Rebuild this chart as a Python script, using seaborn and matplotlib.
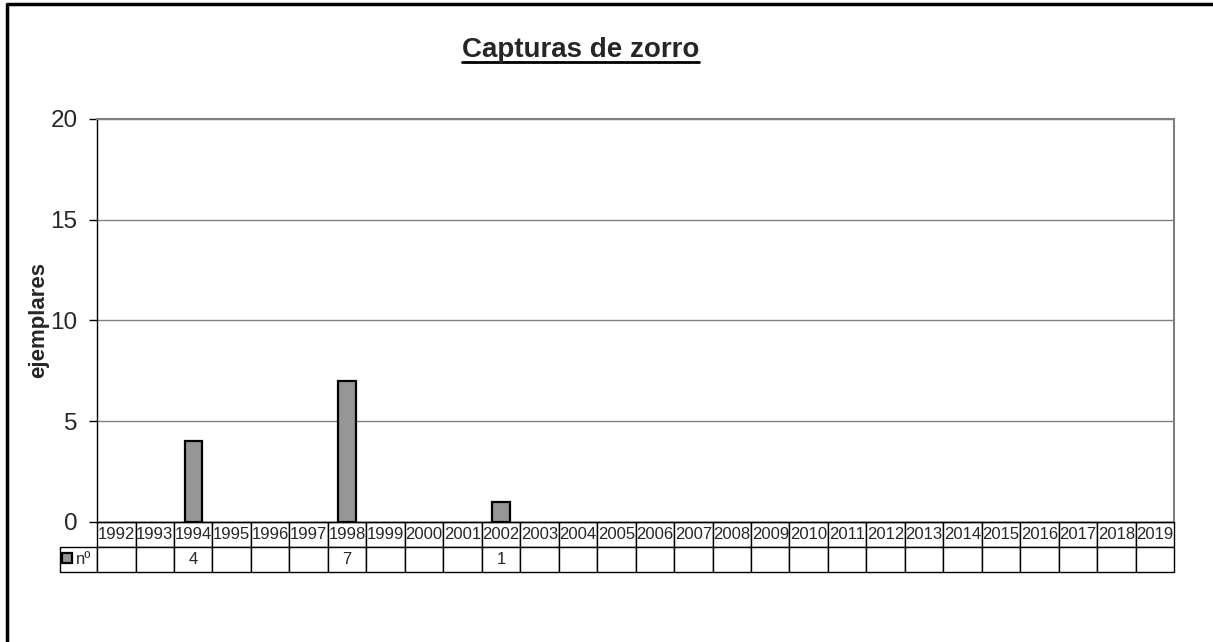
import matplotlib
matplotlib.use("Agg")
import matplotlib.pyplot as plt
from matplotlib.lines import Line2D
import pandas as pd
import seaborn as sns

# data
years = [str(y) for y in range(1992, 2020)]
capture_years = ["1994", "1998", "2002"]
capture_counts = [4, 7, 1]
series_name = "nº"

counts = dict(zip(capture_years, capture_counts))
cell_text = [str(counts[y]) if y in counts else "" for y in years]
df = pd.DataFrame({"year": capture_years, "n": capture_counts})

sns.set_style("white")
plt.rcParams["font.family"] = ["Liberation Sans", "DejaVu Sans"]

fig = plt.figure(figsize=(12.13, 6.42), dpi=100)
ax = fig.add_axes([0.080, 0.187, 0.888, 0.628])

sns.barplot(data=df, x="year", y="n", order=years, color="#969696",
            width=0.45, edgecolor="black", linewidth=1.6, saturation=1,
            ax=ax, label=series_name)

ax.set_xlim(-0.5, len(years) - 0.5)
ax.set_ylim(0, 20)
ax.set_yticks([0, 5, 10, 15, 20])
ax.yaxis.grid(True, color="#808080", linewidth=1.0)
ax.set_axisbelow(True)
ax.tick_params(axis="y", direction="out", length=6, width=1, color="black",
               labelsize=17.5, pad=8, left=True)
ax.set_xticks([])
ax.set_xlabel("")
ax.set_ylabel("ejemplares", fontsize=16, fontweight="bold", labelpad=1)
for side in ["top", "right"]:
    ax.spines[side].set_visible(True)
    ax.spines[side].set_color("#808080")
    ax.spines[side].set_linewidth(1.5)
ax.spines["left"].set_color("black")
ax.spines["left"].set_linewidth(1.0)
ax.spines["bottom"].set_color("black")
ax.spines["bottom"].set_linewidth(1.0)

# data table under the plot (label column hangs left of the grid bbox)
lab_w = 0.0344
tbl = ax.table(cellText=[cell_text], colLabels=years,
               colWidths=[1 / len(years)] * len(years),
               cellLoc="center", bbox=[0, -0.124, 1, 0.124])
tbl.add_cell(1, -1, width=lab_w, height=tbl[(1, 0)].get_height(), text="")
tbl.auto_set_font_size(False)
tbl.set_fontsize(12)
for cell in tbl.get_celld().values():
    cell.set_linewidth(1.0)
    cell.set_edgecolor("black")
    cell.PAD = 0.02

ax.legend(loc="center left", bbox_to_anchor=(-lab_w, -0.093), frameon=False,
          fontsize=12, handlelength=0.6, handleheight=0.6, handletextpad=0.2,
          borderpad=0, borderaxespad=0.15)

# title, underlined
title = fig.text(0.4785, 0.922, "Capturas de zorro", ha="center", va="center",
                 fontsize=20, fontweight="bold")
fig.canvas.draw()
bb = title.get_window_extent().transformed(fig.transFigure.inverted())
fig.add_artist(Line2D([bb.x0, bb.x1], [bb.y0 + 0.002, bb.y0 + 0.002],
                      transform=fig.transFigure, color="black", linewidth=2))

# outer chart border (top and left visible)
fig.add_artist(Line2D([7 / 1213, 7 / 1213, 1.0], [0.0, 1 - 4 / 642, 1 - 4 / 642],
                      transform=fig.transFigure, color="black", linewidth=2.5))

fig.savefig("out.png", dpi=100)
